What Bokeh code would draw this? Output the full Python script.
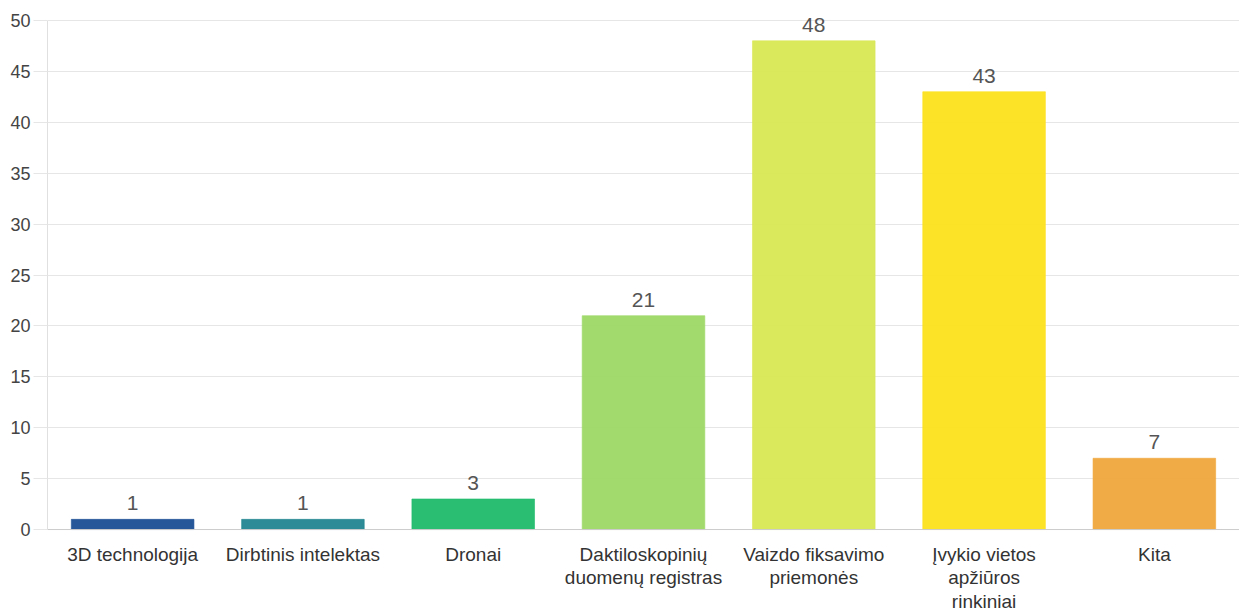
from bokeh.plotting import figure
from bokeh.models import ColumnDataSource, FixedTicker, Range1d, FactorRange, Span
from bokeh.core.properties import value
from bokeh.embed import file_html
from bokeh.resources import INLINE

categories = ["3D technologija", "Dirbtinis intelektas", "Dronai",
              "Daktiloskopinių\nduomenų registras", "Vaizdo fiksavimo\npriemonės",
              "Įvykio vietos\napžiūros\nrinkiniai", "Kita"]
counts = [1, 1, 3, 21, 48, 43, 7]
colors = ["#1a4f94", "#218590", "#1fba6c", "#9dd866", "#d8e853", "#fde11c", "#f0a73c"]
y_ticks = [0, 5, 10, 15, 20, 25, 30, 35, 40, 45, 50]

src = ColumnDataSource(dict(cat=categories, val=counts, col=colors,
                            lab=[str(v) for v in counts],
                            base=[0] * len(counts)))

p = figure(x_range=FactorRange(*categories), y_range=Range1d(-8.05, 51.47),
           width=1239, height=611, output_backend="svg", toolbar_location=None,
           min_border_left=47, min_border_right=0, min_border_top=5, min_border_bottom=0)
p.outline_line_color = None

p.vbar(x="cat", top="val", width=0.72, source=src, fill_color="col",
       fill_alpha=0.95, line_color="col", line_alpha=0.6, line_width=1)

# value labels above bars
p.text(x="cat", y="val", text="lab", source=src, text_align="center",
       text_baseline="bottom", y_offset=-9, text_font=value("Liberation Sans"),
       text_font_size="21px", text_color="#555555")

# category labels below the baseline (multi-line)
p.text(x="cat", y="base", text="cat", source=src, text_align="center",
       text_baseline="top", y_offset=14, text_font=value("Liberation Sans"),
       text_font_size="19px", text_color="#333333", text_line_height=1.13)

p.add_layout(Span(location=0, dimension="width", line_color="#cccccc", line_width=1))

p.xgrid.grid_line_color = None
p.ygrid.grid_line_color = "#e6e6e6"
p.ygrid.ticker = FixedTicker(ticks=y_ticks)

p.yaxis.ticker = FixedTicker(ticks=y_ticks)
p.yaxis.bounds = (0, 50)
p.yaxis.axis_line_color = "#e0e0e0"
p.yaxis.major_tick_line_color = "#e6e6e6"
p.yaxis.major_tick_out = 14
p.yaxis.major_tick_in = 0
p.yaxis.minor_tick_line_color = None
p.yaxis.major_label_standoff = 3
p.yaxis.major_label_text_font = "Liberation Sans"
p.yaxis.major_label_text_font_size = "18px"
p.yaxis.major_label_text_color = "#444444"

p.xaxis.visible = False

open("out.html", "w").write(file_html(p, INLINE))
